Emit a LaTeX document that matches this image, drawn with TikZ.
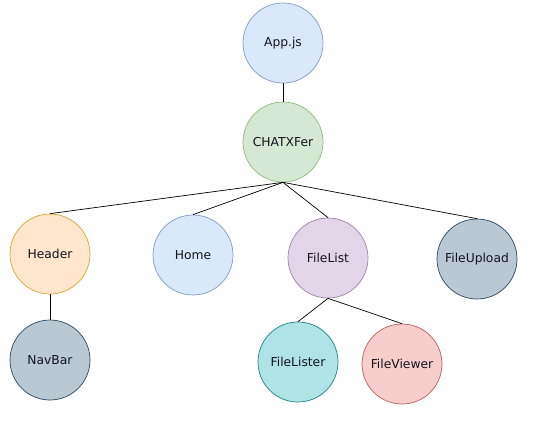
\documentclass[tikz,border=0pt]{standalone}
\usepackage{fontspec}
\setmainfont{DejaVu Sans}
\begin{document}
\begin{tikzpicture}[x=1pt,y=-1pt,
  circ/.style={circle,minimum size=80pt,inner sep=0pt,line width=0.7pt,font=\fontsize{12.3}{14}\selectfont,text={rgb,255:red,20;green,20;blue,30}},
  blue/.style={circ,fill={rgb,255:red,218;green,232;blue,252},draw={rgb,255:red,130;green,155;blue,195}},
  green/.style={circ,fill={rgb,255:red,213;green,232;blue,212},draw={rgb,255:red,145;green,185;blue,125}},
  orange/.style={circ,fill={rgb,255:red,255;green,230;blue,204},draw={rgb,255:red,215;green,165;blue,50}},
  purple/.style={circ,fill={rgb,255:red,225;green,213;blue,231},draw={rgb,255:red,160;green,130;blue,170}},
  slate/.style={circ,fill={rgb,255:red,186;green,200;blue,211},draw={rgb,255:red,45;green,70;blue,95}},
  teal/.style={circ,fill={rgb,255:red,176;green,227;blue,230},draw={rgb,255:red,30;green,130;blue,135}},
  red/.style={circ,fill={rgb,255:red,248;green,206;blue,204},draw={rgb,255:red,184;green,95;blue,90}},
  conn/.style={draw=black,line width=0.7pt}]
\useasboundingbox (0,0) rectangle (533,421);
\node[blue] (app) at (283,43) {App.js};
\node[green] (chat) at (283,142) {CHATXFer};
\node[orange] (header) at (50,254) {Header};
\node[blue] (home) at (193,255) {Home};
\node[purple] (filelist) at (328,258) {FileList};
\node[slate] (upload) at (477,259) {FileUpload};
\node[slate] (navbar) at (50,360) {NavBar};
\node[teal] (lister) at (298,362) {FileLister};
\node[red] (viewer) at (402,364) {FileViewer};
\draw[conn] (app.south) -- (chat.north);
\draw[conn] (chat.south) -- (header.north);
\draw[conn] (chat.south) -- (home.north);
\draw[conn] (chat.south) -- (filelist.north);
\draw[conn] (chat.south) -- (upload.north);
\draw[conn] (header.south) -- (navbar.north);
\draw[conn] (filelist.south) -- (lister.north);
\draw[conn] (filelist.south) -- (viewer.north);
\end{tikzpicture}
\end{document}
